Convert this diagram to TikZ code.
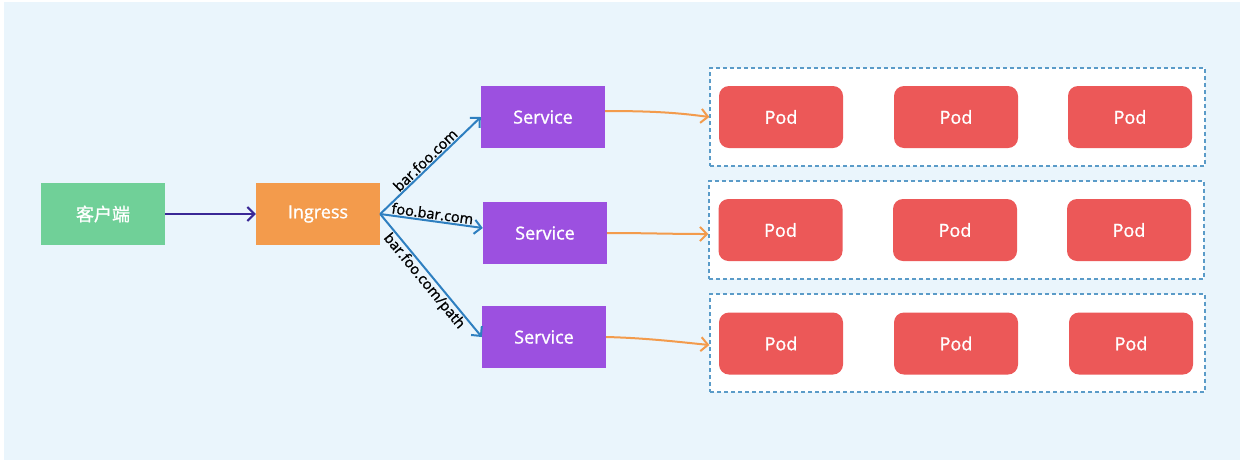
\documentclass[tikz,border=0pt]{standalone}
\usepackage{fontspec}
\setmainfont{Open Sans}
\newfontfamily\semi{Open Sans}[FakeBold=1.2]
\newfontfamily\cjk{Noto Sans CJK SC}[FakeBold=1.2]
\usetikzlibrary{arrows.meta,calc}
\definecolor{bgblue}{RGB}{234,245,252}
\definecolor{cgreen}{RGB}{112,208,152}
\definecolor{corange}{RGB}{243,155,76}
\definecolor{cpurple}{RGB}{156,80,224}
\definecolor{cred}{RGB}{236,88,88}
\definecolor{cnavy}{RGB}{58,40,150}
\definecolor{cblue}{RGB}{46,127,192}
\definecolor{cdash}{RGB}{90,155,200}
\tikzset{
  box/.style={minimum width=124pt,minimum height=62pt,inner sep=0pt,text=white,font=\semi\fontsize{18}{20}\selectfont},
  podbox/.style={box,fill=cred,rounded corners=10pt},
  svcbox/.style={box,fill=cpurple},
  group/.style={draw=cdash,dashed,dash pattern=on 4pt off 3pt,line width=1.3pt,fill=white,minimum width=495pt,minimum height=98pt,inner sep=0pt},
  tip/.style={-{Straight Barb[length=7pt,width=14pt,line width=2pt]}},
  lbl/.style={font=\semi\fontsize{14.5}{16}\selectfont,text=black,inner sep=1pt,sloped}
}
\begin{document}
\begin{tikzpicture}[x=1pt,y=-1pt]
\useasboundingbox (0,0) rectangle (1241,467);
\fill[white] (0,0) rectangle (1241,467);
\fill[bgblue] (4,2) rectangle (1240,460);
% groups
\node[group] (g1) at (957.5,117) {};
\node[group] (g2) at (956.5,230) {};
\node[group] (g3) at (957.5,343) {};
% boxes
\node[box,fill=cgreen] (client) at (103,214) {\cjk 客户端};
\node[box,fill=corange] (ingress) at (318,214) {Ingress};
\node[svcbox] (s1) at (543,117) {Service};
\node[svcbox] (s2) at (545,233) {Service};
\node[svcbox] (s3) at (544,337) {Service};
% pods
\node[podbox] (p11) at (781,117) {Pod};
\node[podbox] (p12) at (956,117) {Pod};
\node[podbox] (p13) at (1130,117) {Pod};
\node[podbox] (p21) at (780.5,230) {Pod};
\node[podbox] (p22) at (955,230) {Pod};
\node[podbox] (p23) at (1129,230) {Pod};
\node[podbox] (p31) at (781,343.5) {Pod};
\node[podbox] (p32) at (956,343.5) {Pod};
\node[podbox] (p33) at (1131,343.5) {Pod};
% arrows
\draw[tip,cnavy,line width=2.3pt] (client.east) -- (ingress.west);
\draw[tip,cblue,line width=2pt] (ingress.east) -- (s1.west) node[lbl,midway,above] {bar.foo.com};
\draw[tip,cblue,line width=2pt] (ingress.east) -- ($(s2.west)+(0,-5)$) node[lbl,midway,above] {foo.bar.com};
\draw[tip,cblue,line width=2pt] (ingress.east) -- (s3.west) node[lbl,midway,below] {bar.foo.com/path};
\draw[tip,corange,line width=2pt] ($(s1.east)+(0,-6)$) .. controls +(50,0) and +(-30,-4) .. (g1.west);
\draw[tip,corange,line width=2pt] (s2.east) .. controls +(40,0) and +(-40,0) .. ($(g2.west)+(0,4)$);
\draw[tip,corange,line width=2pt] (s3.east) .. controls +(40,1) and +(-30,-3) .. ($(g3.west)+(0,2)$);
\end{tikzpicture}
\end{document}
